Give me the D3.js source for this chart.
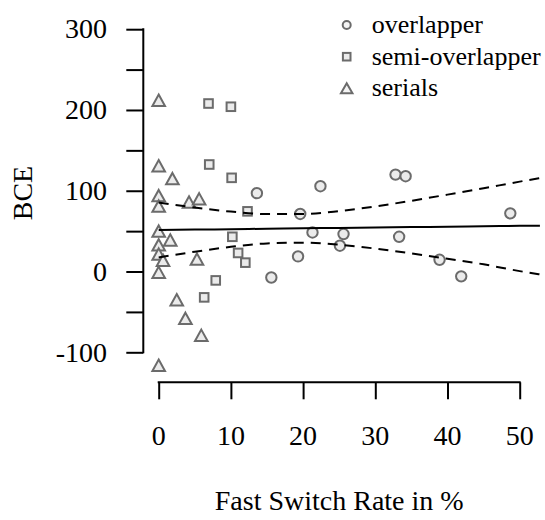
<!DOCTYPE html>
<html>
<head>
<meta charset="utf-8">
<script src="https://cdn.jsdelivr.net/npm/d3@7"></script>
<style>
  body { margin: 0; background: #fff; }
  text { font-family: "Liberation Serif", "DejaVu Serif", serif; fill: #000; }
</style>
</head>
<body>
<div id="chart"></div>
<script>
// overlapper (circles)
const overlapX = [13.6, 22.4, 19.6, 21.3, 25.6, 25.1, 19.3, 15.6, 32.8, 34.2, 48.7, 33.3, 38.9, 41.9];
const overlapY = [97, 105.6, 71.3, 48.4, 46.4, 32, 18.7, -7.4, 120, 118, 72, 43, 14.5, -6];
// semi-overlapper (squares)
const semiX = [6.9, 10, 7.0, 10.1, 12.3, 10.2, 11, 12, 7.9, 6.3];
const semiY = [208, 204, 132.5, 116, 74.5, 43, 23, 11, -11, -32];
// serials (triangles)
const serialX = [0, 0, 1.9, 0, 4.2, 5.6, 0, 0, 1.6, 0, 0, 0.6, 5.3, 0, 2.5, 3.7, 5.9, 0];
const serialY = [212, 131, 115, 94, 86, 90, 81, 50, 39, 33, 21.6, 14, 15.4, -1, -35, -58, -79, -116];

// fitted line and confidence band
const fitX = [0, 5, 10, 15, 20, 25, 30, 35, 40, 45, 50, 52.8];
const fitY = [51.4, 51.9, 52.4, 53.0, 53.5, 54.0, 54.5, 55.0, 55.5, 56.0, 56.6, 56.8];
const upperY = [85.4, 79.3, 74.2, 71.2, 71.3, 74.8, 80.6, 87.6, 95.2, 103.1, 111.3, 115.6];
const lowerY = [17.4, 24.5, 30.6, 34.8, 35.7, 33.2, 28.4, 22.4, 15.8, 8.9, 0.5, -3.5];

const xTicks = [0, 10, 20, 30, 40, 50];
const yTicks = [-100, -50, 0, 50, 100, 150, 200, 250, 300];
const yLabels = [-100, 0, 100, 200, 300];
const legendNames = ['overlapper', 'semi-overlapper', 'serials'];

const width = 545, height = 520;
const svg = d3.select('#chart').append('svg')
  .attr('width', width).attr('height', height);

const x = d3.scaleLinear().domain([0, 50]).range([158.7, 519.7]);
const y = d3.scaleLinear().domain([-100, 300]).range([352.3, 29.2]);

const axisX = 143.3, axisY = 382.3, tickLen = 17;
const ptStroke = '#6b6b6b', ptFill = '#ebebeb';

// y axis
const yAxis = svg.append('g')
  .attr('transform', 'translate(' + axisX + ',0)')
  .call(d3.axisLeft(y).tickValues(yTicks).tickSize(tickLen).tickFormat(''));
yAxis.select('.domain').remove();
yAxis.selectAll('line').attr('stroke', '#000').attr('stroke-width', 2);
svg.append('line')
  .attr('x1', axisX).attr('x2', axisX)
  .attr('y1', y(-100)).attr('y2', y(300))
  .attr('stroke', '#000').attr('stroke-width', 2).attr('stroke-linecap', 'square');
svg.selectAll('.ylab').data(yLabels).enter().append('text')
  .attr('class', 'ylab')
  .attr('x', 107).attr('y', d => y(d))
  .attr('dy', '0.33em')
  .attr('text-anchor', 'end')
  .style('font-size', '28px')
  .text(d => d);

// x axis
const xAxis = svg.append('g')
  .attr('transform', 'translate(0,' + axisY + ')')
  .call(d3.axisBottom(x).tickValues(xTicks).tickSize(tickLen).tickFormat(''));
xAxis.select('.domain').remove();
xAxis.selectAll('line').attr('stroke', '#000').attr('stroke-width', 2);
svg.append('line')
  .attr('x1', x(0)).attr('x2', x(50))
  .attr('y1', axisY).attr('y2', axisY)
  .attr('stroke', '#000').attr('stroke-width', 2).attr('stroke-linecap', 'square');
svg.selectAll('.xlab').data(xTicks).enter().append('text')
  .attr('class', 'xlab')
  .attr('x', d => x(d)).attr('y', 445)
  .attr('text-anchor', 'middle')
  .style('font-size', '28px')
  .text(d => d);

// axis titles
svg.append('text')
  .attr('x', x(25)).attr('y', 510)
  .attr('text-anchor', 'middle')
  .style('font-size', '28px')
  .text('Fast Switch Rate in %');
svg.append('text')
  .attr('transform', 'translate(31.5,193) rotate(-90)')
  .attr('text-anchor', 'middle')
  .style('font-size', '28px')
  .text('BCE');

// symbol paths
function tri(w, h) {
  return 'M0,' + (-h / 2) + 'L' + (w / 2) + ',' + (h / 2) + 'L' + (-w / 2) + ',' + (h / 2) + 'Z';
}

const pts = svg.append('g')
  .attr('stroke', ptStroke).attr('stroke-width', 2).attr('fill', ptFill);

pts.selectAll('.circ').data(d3.range(overlapX.length)).enter().append('circle')
  .attr('cx', i => x(overlapX[i])).attr('cy', i => y(overlapY[i])).attr('r', 5.2);

pts.selectAll('.sq').data(d3.range(semiX.length)).enter().append('rect')
  .attr('x', i => x(semiX[i]) - 4.3).attr('y', i => y(semiY[i]) - 4.3)
  .attr('width', 8.6).attr('height', 8.6);

pts.selectAll('.tri').data(d3.range(serialX.length)).enter().append('path')
  .attr('transform', i => 'translate(' + x(serialX[i]) + ',' + y(serialY[i]) + ')')
  .attr('d', tri(12.6, 11.4));

// regression line and band
const line = d3.line().x(d => x(d[0])).y(d => y(d[1])).curve(d3.curveMonotoneX);
svg.append('path')
  .attr('d', line(fitX.map((v, i) => [v, fitY[i]])))
  .attr('fill', 'none').attr('stroke', '#000').attr('stroke-width', 2);
[upperY, lowerY].forEach(arr => {
  svg.append('path')
    .attr('d', line(fitX.map((v, i) => [v, arr[i]])))
    .attr('fill', 'none').attr('stroke', '#000').attr('stroke-width', 2)
    .attr('stroke-dasharray', '10,7');
});

// legend
const legY = [25, 56.7, 88.3];
const leg = svg.append('g');
leg.append('circle').attr('cx', 346.7).attr('cy', legY[0]).attr('r', 4)
  .attr('fill', '#f4f4f4').attr('stroke', ptStroke).attr('stroke-width', 2);
leg.append('rect').attr('x', 346.7 - 3.8).attr('y', legY[1] - 3.8)
  .attr('width', 7.6).attr('height', 7.6)
  .attr('fill', ptFill).attr('stroke', ptStroke).attr('stroke-width', 2);
leg.append('path').attr('transform', 'translate(346.7,' + legY[2] + ')')
  .attr('d', tri(11.5, 10))
  .attr('fill', '#f4f4f4').attr('stroke', ptStroke).attr('stroke-width', 2);
leg.selectAll('.legtxt').data(legendNames).enter().append('text')
  .attr('x', 371.7).attr('y', (d, i) => legY[i])
  .attr('dy', '0.3em')
  .style('font-size', '26px')
  .text(d => d);
</script>
</body>
</html>
